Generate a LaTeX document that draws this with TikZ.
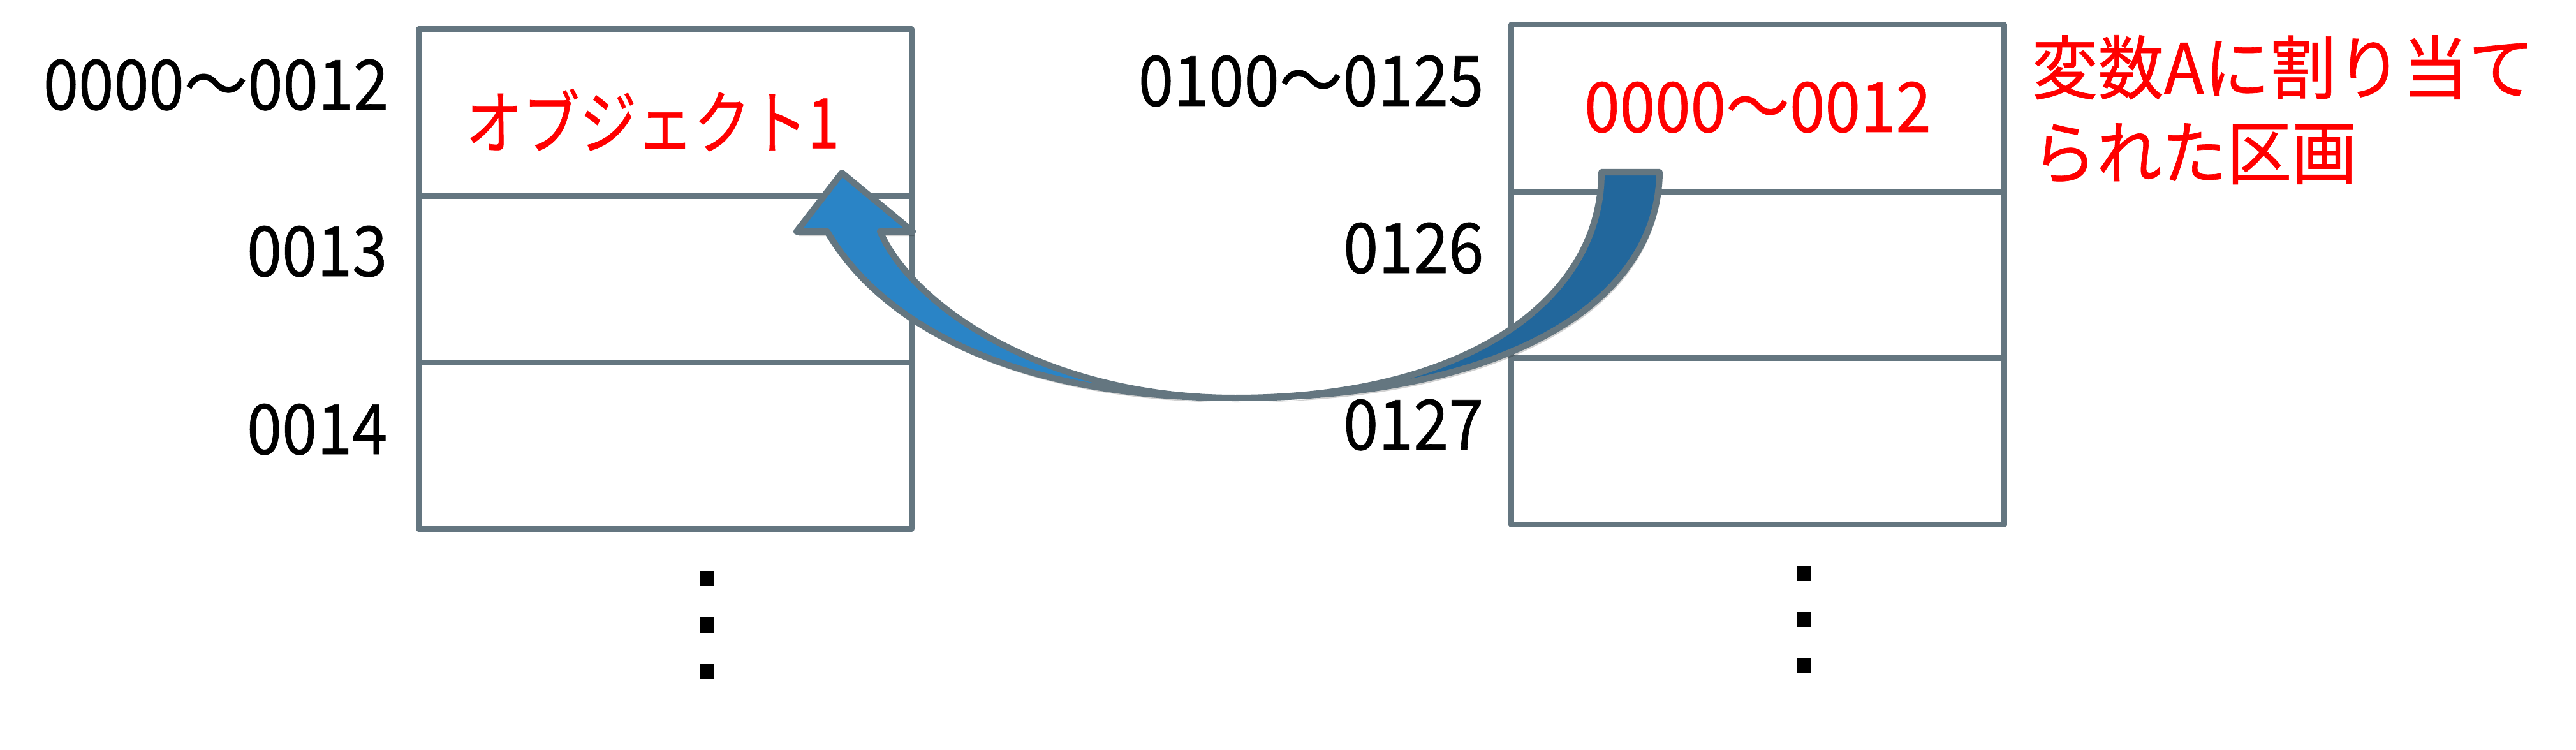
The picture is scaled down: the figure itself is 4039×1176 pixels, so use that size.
\documentclass[tikz,border=0pt]{standalone}
\usepackage{fontspec}
\usepackage{graphicx}
\newfontfamily\jp[FakeBold=0.6]{Noto Sans CJK JP}
\usetikzlibrary{shadows}
\definecolor{boxgray}{HTML}{647680}
\definecolor{arrlight}{HTML}{2A84C6}
\definecolor{arrdark}{HTML}{22679C}
\definecolor{redtxt}{HTML}{FF0000}
\newcommand{\nrw}[2]{\scalebox{#1}[1]{#2}}
\begin{document}
\begin{tikzpicture}[x=0.01cm,y=-0.01cm,
  font=\jp\fontsize{31pt}{37pt}\selectfont,
  cell/.style={draw=boxgray, line width=0.09cm, line join=round, minimum width=7.72cm, minimum height=2.613cm, inner sep=0pt},
  addr/.style={anchor=base east, inner sep=0pt, text=black},
  redlbl/.style={inner sep=0pt, text=redtxt},
  arrowpart/.style={draw=boxgray, line width=0.1cm, line join=round,
    drop shadow={shadow xshift=0.03cm, shadow yshift=-0.07cm, opacity=0.18, fill=black}},
  dotsq/.style={fill=black}]
\useasboundingbox (0,0) rectangle (4039,1176);
% left memory column
\node[cell] (L1) at (1043,176.65) {};
\node[cell] (L2) at (1043,437.95) {};
\node[cell] (L3) at (1043,699.25) {};
% right memory column
\node[cell] (R1) at (2756,169.65) {};
\node[cell] (R2) at (2756,430.95) {};
\node[cell] (R3) at (2756,692.25) {};
% address labels
\node[addr] (la1) at (610,172) {\nrw{0.913}{0000～0012}};
\node[addr] (la2) at (608,433) {\nrw{0.91}{0013}};
\node[addr] (la3) at (608,712) {\nrw{0.91}{0014}};
\node[addr] (ra1) at (2327,166) {\nrw{0.913}{0100～0125}};
\node[addr] (ra2) at (2327,428) {\nrw{0.91}{0126}};
\node[addr] (ra3) at (2327,705) {\nrw{0.91}{0127}};
% contents
\node[redlbl] (obj) at (1023,188) {\nrw{0.82}{オブジェクト1}};
\node[redlbl, anchor=base] (ptr) at (2756,207) {\nrw{0.917}{0000～0012}};
\node[redlbl, anchor=base west] (note1) at (3185,147) {\nrw{0.95}{変数Aに割り当て}};
\node[redlbl, anchor=base west] (note2) at (3185,280) {\nrw{0.935}{られた区画}};
% curved arrow
\coordinate (B) at (1937,624);
\coordinate (Lo) at (1297,363);
\coordinate (Li) at (1380,363);
\coordinate (Hl) at (1249,363);
\coordinate (Hr) at (1431,363);
\coordinate (Tip) at (1320,271);
\coordinate (To) at (2602,270);
\coordinate (Ti) at (2511,270);
\draw[arrowpart, fill=arrdark] (Ti) -- (To) .. controls (2600,480) and (2350,624) .. (B)
  .. controls (2300,624) and (2511,470) .. (Ti) -- cycle;
\draw[arrowpart, fill=arrlight] (Lo) -- (Hl) -- (Tip) -- (Hr) -- (Li)
  .. controls (1430,480) and (1640,624) .. (B)
  .. controls (1560,624) and (1370,490) .. (Lo) -- cycle;
% vertical ellipses
\foreach \yy in {907,980,1053} {
  \fill[dotsq] (1097,\yy-12) rectangle (1119,\yy+12);
}
\foreach \yy in {899,971,1043} {
  \fill[dotsq] (2817,\yy-12) rectangle (2839,\yy+12);
}
\end{tikzpicture}
\end{document}
